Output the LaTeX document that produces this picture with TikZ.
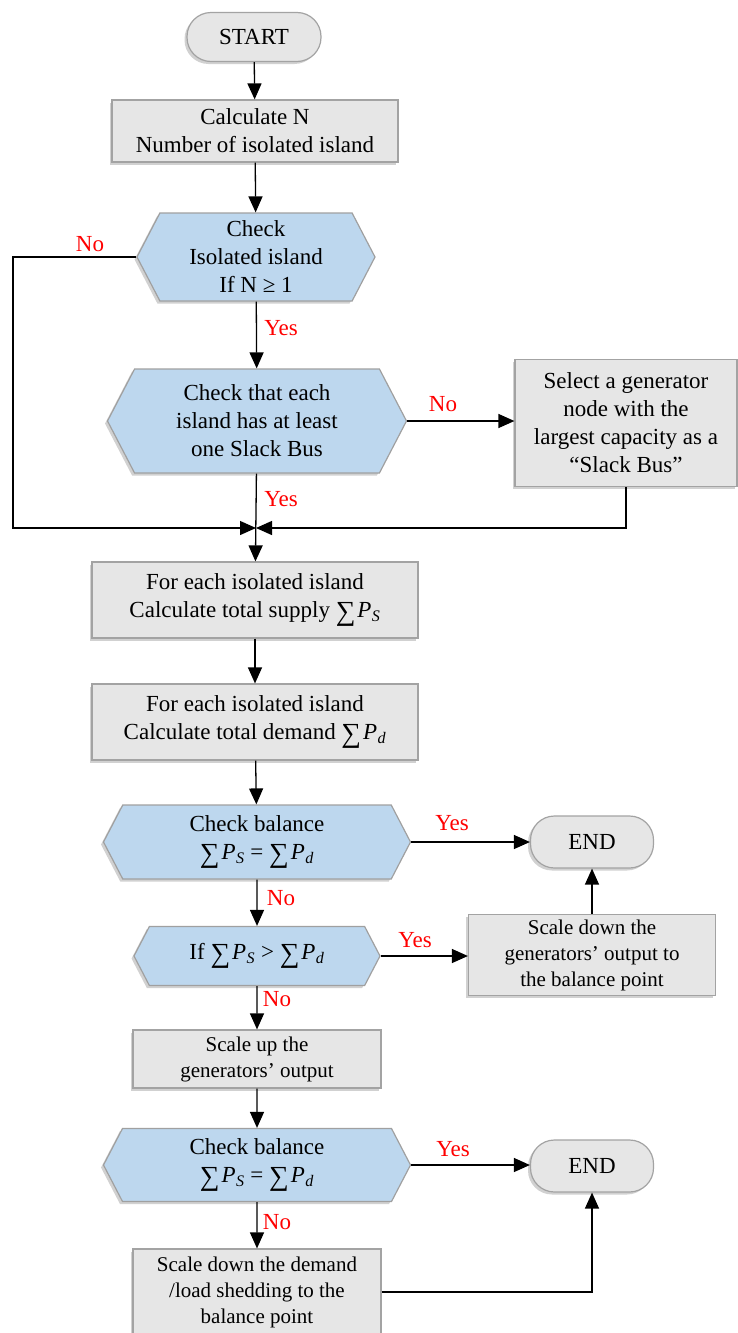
\documentclass[tikz,border=0pt]{standalone}
\usepackage{fontspec}
\setmainfont{Liberation Serif}
\usetikzlibrary{shapes.symbols,shapes.misc,arrows.meta,shadows}
\definecolor{boxfill}{HTML}{E6E6E6}
\definecolor{boxline}{HTML}{A3A3A3}
\definecolor{hexfill}{HTML}{BDD7EE}
\definecolor{hexline}{HTML}{A0A0A0}
\newcommand{\SumP}[1]{\raisebox{-0.12em}{\scalebox{1.2}{∑}}\kern2pt\textit{P}\kern0.5pt\textsubscript{\textit{#1}}}
\begin{document}
\begin{tikzpicture}[x=1pt,y=-1pt,
  shad/.style={drop shadow={shadow xshift=-2.5pt,shadow yshift=-2.5pt,opacity=0.3,fill=black!60}},
  box/.style={draw=boxline,fill=boxfill,line width=1.2pt,align=center,inner sep=0pt,
    font=\fontsize{23}{28}\selectfont,shad},
  sbox/.style={box,font=\fontsize{21}{26}\selectfont},
  term/.style={box,rounded corners=24pt},
  hexa/.style={signal,signal to=west and east,signal pointer angle=125,draw=hexline,fill=hexfill,
    line width=1.2pt,align=center,inner sep=0pt,font=\fontsize{23}{28}\selectfont,shad},
  arr/.style={-{Triangle[width=14pt,length=16pt]},line width=1.3pt},
  lab/.style={text=red,font=\fontsize{23}{27}\selectfont}]
\useasboundingbox (0,0) rectangle (738,1333);

\node[term,minimum width=134pt,minimum height=49pt] (start) at (254,37) {START};
\node[box,minimum width=286pt,minimum height=62pt] (calc) at (255,131) {Calculate N\\Number of isolated island};
\node[hexa,minimum width=238pt,minimum height=88pt] (hex1) at (256,257) {Check\\Isolated island\\If N ≥ 1};
\node[hexa,minimum width=299pt,minimum height=104pt] (hex2) at (257,421) {Check that each\\island has at least\\one Slack Bus};
\node[box,minimum width=222pt,minimum height=127pt] (sel) at (626,423) {Select a generator\\node with the\\largest capacity as a\\“Slack Bus”};
\coordinate (m) at (256,528);
\coordinate (loopL) at (13,528);
\node[box,minimum width=326pt,minimum height=76pt] (sup) at (255,600) {For each isolated island\\Calculate total supply \SumP{S}};
\node[box,minimum width=326pt,minimum height=76pt] (dem) at (255,722) {For each isolated island\\Calculate total demand \SumP{d}};
\node[hexa,minimum width=307pt,minimum height=74pt] (hex3) at (257,842) {Check balance\\\SumP{S} = \SumP{d}};
\node[term,minimum width=123pt,minimum height=52pt] (end1) at (592,842) {END};
\node[hexa,minimum width=246pt,minimum height=59pt] (hex4) at (257,956) {If \SumP{S} > \SumP{d}};
\node[sbox,minimum width=247pt,minimum height=81pt] (sdg) at (592,955) {Scale down the\\generators’ output to\\the balance point};
\node[sbox,minimum width=248pt,minimum height=58pt] (sup2) at (257,1059) {Scale up the\\generators’ output};
\node[hexa,minimum width=307pt,minimum height=73pt] (hex5) at (257,1165) {Check balance\\\SumP{S} = \SumP{d}};
\node[term,minimum width=123pt,minimum height=52pt] (end2) at (592,1166) {END};
\node[sbox,minimum width=248pt,minimum height=86pt] (sdd) at (257,1292) {Scale down the demand\\/load shedding to the\\balance point};

\draw[arr] (start) -- (calc);
\draw[arr] (calc) -- (hex1);
\draw[arr] (hex1.west) -| (loopL) -- (m);
\node[lab] (l1) at (90,244) {No};
\draw[arr] (hex1) -- (hex2);
\node[lab] (l2) at (281,328) {Yes};
\draw[arr] (hex2.east) -- (sel.west |- hex2.east);
\node[lab] (l3) at (443,404) {No};
\draw[arr] (sel.south) |- (m);
\draw[arr] (hex2) -- (sup);
\node[lab] (l4) at (281,499) {Yes};
\draw[arr] (sup) -- (dem);
\draw[arr] (dem) -- (hex3);
\draw[arr] (hex3.east) -- (end1.west |- hex3.east);
\node[lab] (l5) at (452,823) {Yes};
\draw[arr] (hex3) -- (hex4);
\node[lab] (l6) at (281,898) {No};
\draw[arr] (hex4.east) -- (sdg.west |- hex4.east);
\node[lab] (l7) at (415,940) {Yes};
\draw[arr] (sdg) -- (end1);
\draw[arr] (hex4) -- (sup2);
\node[lab] (l8) at (277,999) {No};
\draw[arr] (sup2) -- (hex5);
\draw[arr] (hex5.east) -- (end2.west |- hex5.east);
\node[lab] (l9) at (453,1149) {Yes};
\draw[arr] (hex5) -- (sdd);
\node[lab] (l10) at (277,1222) {No};
\draw[arr] (sdd.east) -| (end2.south);
\end{tikzpicture}
\end{document}
